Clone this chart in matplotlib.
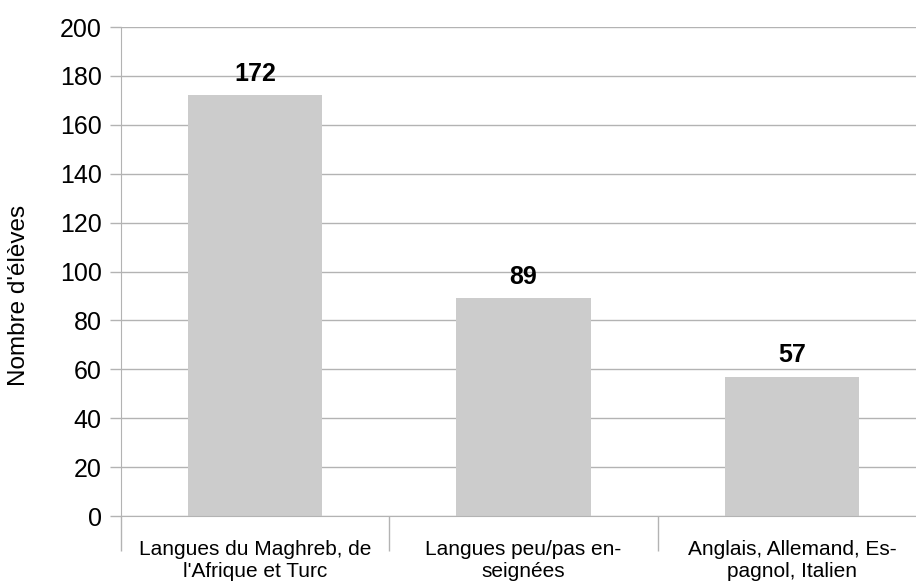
import matplotlib
matplotlib.use("Agg")
import matplotlib.pyplot as plt
from matplotlib.ticker import FixedLocator

# Données
categories = [
    "Langues du Maghreb, de\nl'Afrique et Turc",
    "Langues peu/pas en-\nseignées",
    "Anglais, Allemand, Es-\npagnol, Italien",
]
eleves = [172, 89, 57]
y_ticks = list(range(0, 201, 20))

plt.rcParams["font.family"] = ["Liberation Sans", "DejaVu Sans"]

fig = plt.figure(figsize=(9.16, 5.81), dpi=100)
ax = fig.add_axes([121 / 916, 1 - 516 / 581, 805 / 916, 489 / 581])

grid_col = "#b3b3b3"
pos = list(range(len(categories)))
ax.bar(pos, eleves, width=0.5, color="#cccccc", zorder=2)

# Valeurs au-dessus des barres
for x, v in zip(pos, eleves):
    ax.annotate(str(v), (x, v), xytext=(0, 7), textcoords="offset points",
                ha="center", va="bottom", fontsize=18, fontweight="bold",
                zorder=3)

ax.set_xlim(-0.5, len(categories) - 0.5)
ax.set_ylim(0, 200)
ax.set_yticks(y_ticks)
ax.yaxis.grid(True, color=grid_col, linewidth=1, zorder=0)
ax.set_axisbelow(True)

ax.set_xticks(pos)
ax.set_xticklabels(categories, fontsize=15)
# séparateurs entre catégories
ax.xaxis.set_minor_locator(FixedLocator([-0.5, 0.5, 1.5]))
ax.tick_params(axis="x", which="major", length=0, pad=17)
ax.tick_params(axis="x", which="minor", length=25, color=grid_col, width=1)
ax.tick_params(axis="y", length=8, color=grid_col, width=1, pad=6,
               labelsize=18)

for side in ["top", "right"]:
    ax.spines[side].set_visible(False)
for side in ["left", "bottom"]:
    ax.spines[side].set_color(grid_col)

fig.text(19 / 916, 1 - 295 / 581, "Nombre d'élèves", rotation=90,
         ha="center", va="center", fontsize=17.5)

fig.savefig("out.png", dpi=100)
